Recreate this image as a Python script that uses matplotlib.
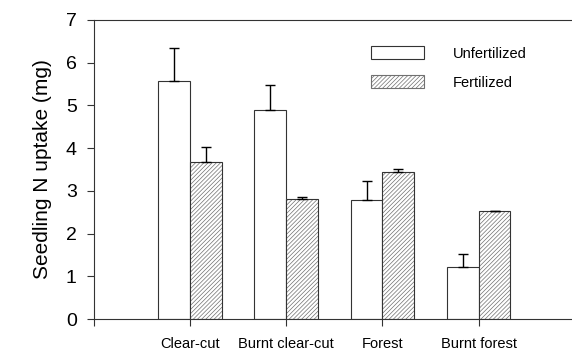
import matplotlib
matplotlib.use("Agg")
import matplotlib.pyplot as plt
import numpy as np
from matplotlib.patches import Patch

plt.rcParams['font.family'] = ['Liberation Sans', 'DejaVu Sans']
plt.rcParams['hatch.linewidth'] = 0.5

categories = ["Clear-cut", "Burnt clear-cut", "Forest", "Burnt forest"]
unfertilized = [5.58, 4.90, 2.79, 1.21]
unfertilized_se = [0.76, 0.58, 0.44, 0.31]
fertilized = [3.67, 2.80, 3.45, 2.52]
fertilized_se = [0.35, 0.05, 0.07, 0.02]
series_labels = ["Unfertilized", "Fertilized"]

fig = plt.figure(figsize=(5.72, 3.51), dpi=100)
ax = fig.add_axes([93.5/572, 1-319/351, 1-93.5/572, 299/351])

x = np.arange(1, len(categories)+1)
w = 0.33
edge = '#333333'
hatch_col = '#707070'

ax.bar(x - w/2, unfertilized, w, color='white', edgecolor=edge, linewidth=0.8, zorder=2)
ax.errorbar(x - w/2, unfertilized, yerr=[np.zeros(len(x)), unfertilized_se], fmt='none',
            ecolor='black', elinewidth=1.0, capsize=3.5, capthick=1.0, zorder=3)
ax.bar(x + w/2, fertilized, w, color='white', edgecolor=hatch_col, hatch='////////', linewidth=0, zorder=2)
ax.bar(x + w/2, fertilized, w, fill=False, edgecolor=edge, linewidth=0.8, zorder=2.5)
ax.errorbar(x + w/2, fertilized, yerr=[np.zeros(len(x)), fertilized_se], fmt='none',
            ecolor='black', elinewidth=1.0, capsize=3.5, capthick=1.0, zorder=3)

ax.set_xlim(0, (572-93.5)/96.3)
ax.set_ylim(0, 7)
ax.set_yticks(range(0, 8))
ax.set_xticks([0] + list(x))
ax.set_xticklabels([""] + categories, fontsize=10.5)
ax.tick_params(axis='y', labelsize=14, direction='out', length=5, width=0.8, pad=7, color=edge)
ax.tick_params(axis='x', direction='out', length=5, width=0.8, pad=7.8, color=edge)
ax.set_ylabel("Seedling N uptake (mg)", fontsize=15, labelpad=10)
ax.spines['right'].set_visible(False)
for s in ['left', 'bottom', 'top']:
    ax.spines[s].set_linewidth(0.8)
    ax.spines[s].set_color(edge)

handles = [Patch(facecolor='white', edgecolor=edge, linewidth=0.8),
           Patch(facecolor='white', edgecolor=hatch_col, hatch='////////', linewidth=0.8)]
fig.legend(handles, series_labels, loc='upper left', bbox_to_anchor=(371/572, 1-46/351),
           bbox_transform=fig.transFigure, frameon=False, fontsize=10.5,
           handlelength=3.6, handleheight=1.0, handletextpad=2.0, labelspacing=1.0,
           borderpad=0, borderaxespad=0)

fig.savefig("out.png", dpi=100)
